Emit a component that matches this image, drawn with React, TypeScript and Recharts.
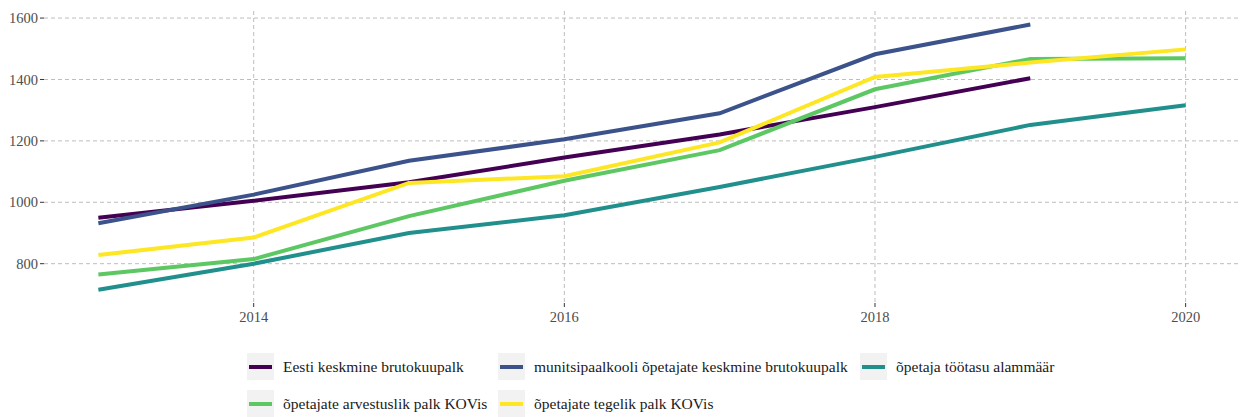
import { CartesianGrid, Line, LineChart, XAxis, YAxis } from "recharts";

const years = [2013, 2014, 2015, 2016, 2017, 2018, 2019, 2020];
const keskmine = [950, 1005, 1065, 1146, 1221, 1310, 1404, null];
const munitsipaal = [932, 1025, 1135, 1205, 1290, 1482, 1579, null];
const alammaar = [715, 800, 900, 958, 1050, 1148, 1252, 1316];
const arvestuslik = [765, 815, 955, 1070, 1170, 1368, 1467, 1469];
const tegelik = [828, 885, 1063, 1085, 1195, 1408, 1455, 1498];

const xTicks = [2014, 2016, 2018, 2020];
const yTicks = [800, 1000, 1200, 1400, 1600];

const seriesNames = [
  "Eesti keskmine brutokuupalk",
  "munitsipaalkooli õpetajate keskmine brutokuupalk",
  "õpetaja töötasu alammäär",
  "õpetajate arvestuslik palk KOVis",
  "õpetajate tegelik palk KOVis"
];
const seriesColors = ["#440154", "#3b528b", "#21908c", "#5dc863", "#fde725"];
const seriesKeys = ["keskmine", "munitsipaal", "alammaar", "arvestuslik", "tegelik"];

const rows = years.map((year, i) => ({
  year,
  keskmine: keskmine[i],
  munitsipaal: munitsipaal[i],
  alammaar: alammaar[i],
  arvestuslik: arvestuslik[i],
  tegelik: tegelik[i]
}));

const font = "'Liberation Serif', 'DejaVu Serif', serif";

function LegendItem({ idx }: { idx: number }) {
  return (
    <div style={{ display: "flex", alignItems: "center", height: 27 }}>
      <div
        style={{
          width: 27,
          height: 27,
          background: "#f2f2f2",
          display: "flex",
          alignItems: "center",
          justifyContent: "center"
        }}
      >
        <div style={{ width: 23, height: 4, background: seriesColors[idx] }} />
      </div>
      <span style={{ marginLeft: 9, fontSize: 15.5, color: "#1a1a1a", whiteSpace: "nowrap" }}>
        {seriesNames[idx]}
      </span>
    </div>
  );
}

export default function App() {
  return (
    <div
      style={{
        position: "absolute",
        top: 0,
        left: 0,
        width: 1249,
        height: 417,
        background: "#fff",
        fontFamily: font
      }}
    >
      <LineChart width={1249} height={340} data={rows} margin={{ top: 11, right: 9, left: 0, bottom: 0 }}>
        <CartesianGrid stroke="#bdbdbd" strokeDasharray="4 3" syncWithTicks />
        <XAxis
          dataKey="year"
          type="number"
          domain={[2012.65, 2020.35]}
          ticks={xTicks}
          allowDataOverflow
          height={37}
          axisLine={false}
          tickSize={4}
          tickMargin={5}
          tickLine={{ stroke: "#333" }}
          tick={{ fill: "#4d4d4d", fontSize: 14.5, fontFamily: font }}
        />
        <YAxis
          type="number"
          domain={[672, 1623]}
          ticks={yTicks}
          allowDataOverflow
          width={44}
          axisLine={false}
          tickSize={4}
          tickMargin={2}
          tickLine={{ stroke: "#333" }}
          tick={{ fill: "#4d4d4d", fontSize: 14.5, fontFamily: font }}
        />
        {seriesKeys.map((k, i) => (
          <Line
            key={k}
            type="linear"
            dataKey={k}
            stroke={seriesColors[i]}
            strokeWidth={4}
            dot={false}
            activeDot={false}
            isAnimationActive={false}
          />
        ))}
      </LineChart>
      <div
        style={{
          position: "absolute",
          left: 247,
          top: 353,
          display: "grid",
          gridTemplateColumns: "251px 362px auto",
          rowGap: 10
        }}
      >
        {[0, 1, 2, 3, 4].map(i => (
          <LegendItem key={i} idx={i} />
        ))}
      </div>
    </div>
  );
}
